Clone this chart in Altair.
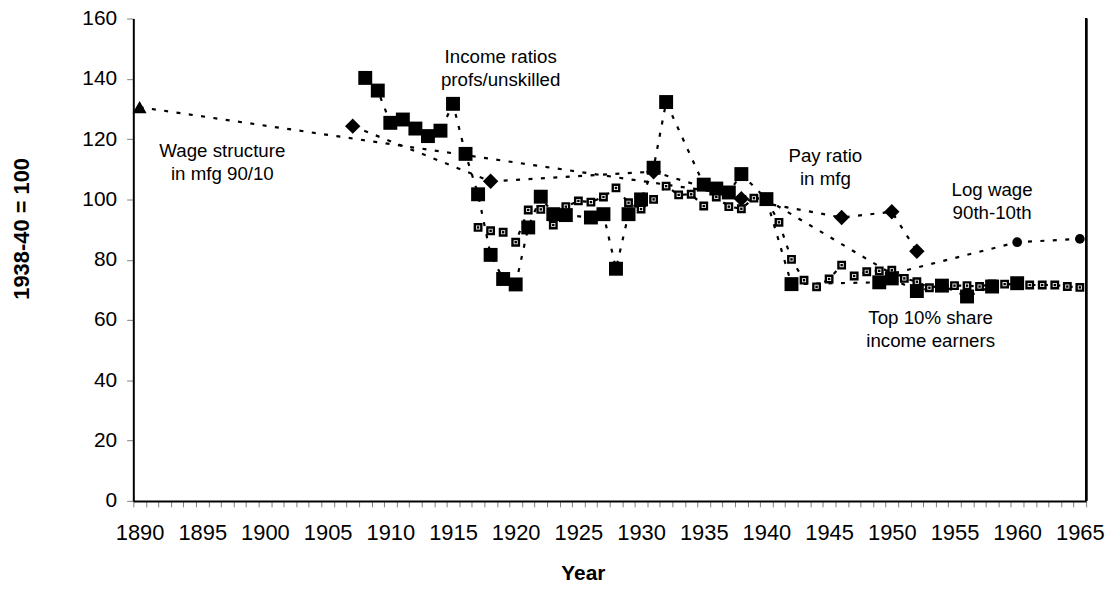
import altair as alt
import pandas as pd

FONT = "Liberation Sans"

# Income ratios profs/unskilled (large black squares)
prof_years = [1908, 1909, 1910, 1911, 1912, 1913, 1914, 1915, 1916, 1917, 1918, 1919, 1920,
              1921, 1922, 1923, 1924, 1926, 1927, 1928, 1929, 1930, 1931, 1932, 1935, 1936,
              1937, 1938, 1940, 1942, 1949, 1950, 1952, 1954, 1956, 1958, 1960]
prof_vals = [140.3, 136.1, 125.4, 126.5, 123.5, 121.0, 122.8, 131.7, 115.1, 101.7, 81.6, 73.6, 71.8,
             90.7, 100.9, 95.1, 94.8, 94.0, 95.1, 77.0, 95.1, 100.0, 110.5, 132.3, 104.9, 103.6,
             102.3, 108.4, 100.1, 71.9, 72.5, 73.8, 69.6, 71.4, 67.8, 71.1, 72.2]

# Top 10% share income earners (small squares)
top_years = [1917, 1918, 1919, 1920, 1921, 1922, 1923, 1924, 1925, 1926, 1927, 1928, 1929,
             1930, 1931, 1932, 1933, 1934, 1935, 1936, 1937, 1938, 1939, 1940, 1941, 1942,
             1943, 1944, 1945, 1946, 1947, 1948, 1949, 1950, 1951, 1952, 1953, 1954, 1955,
             1956, 1957, 1958, 1959, 1960, 1961, 1962, 1963, 1964, 1965]
top_vals = [90.7, 89.6, 89.1, 85.8, 96.5, 96.7, 91.5, 97.6, 99.5, 99.1, 100.8, 103.8, 98.9,
            96.8, 100.0, 104.4, 101.5, 101.7, 97.8, 100.8, 97.6, 96.9, 100.4, 100.0, 92.4, 80.1,
            73.2, 71.0, 73.6, 78.2, 74.6, 76.0, 76.3, 76.5, 73.8, 72.7, 70.7, 71.5, 71.4,
            71.4, 71.1, 72.0, 71.9, 72.0, 71.6, 71.6, 71.6, 71.1, 70.8]

# Pay ratio in mfg (diamonds)
pay_years = [1907, 1918, 1931, 1938, 1946, 1950, 1952]
pay_vals = [124.3, 106.0, 109.2, 100.2, 94.0, 95.9, 82.8]

# Wage structure in mfg 90/10 (triangles)
wage_years = [1890, 1940]
wage_vals = [130.6, 100.0]

# Log wage 90th-10th (circles)
log_years = [1940, 1950, 1960, 1965]
log_vals = [100.0, 75.3, 85.8, 86.9]

# Annotations
ann_text = ["Wage structure", "in mfg 90/10", "Income ratios", "profs/unskilled",
            "Pay ratio", "in mfg", "Log wage", "90th-10th", "Top 10% share", "income earners"]
ann_year = [1896.6, 1896.6, 1918.8, 1918.8, 1944.7, 1944.7, 1958.0, 1958.0, 1953.1, 1953.1]
ann_val = [114.2, 106.6, 145.2, 137.7, 112.4, 104.9, 101.1, 93.4, 58.7, 50.9]

y_ticks = [0, 20, 40, 60, 80, 100, 120, 140, 160]
x_bounds = [1889.5 + i for i in range(77)]


def df(years, vals):
    return pd.DataFrame({"year": years, "value": vals})


x_axis = alt.Axis(
    values=x_bounds,
    labelExpr="(datum.value + 0.5) % 5 === 0 ? '' + (datum.value + 0.5) : ''",
    labelOffset=6.3, labelOverlap=False, labelFlush=False, grid=False,
    domainColor="black", domainWidth=2, tickColor="#808080", tickSize=6, tickWidth=1,
    labelFont=FONT, labelFontSize=22, labelColor="black", labelPadding=16,
    title="Year", titleFont=FONT, titleFontSize=21, titleFontWeight="bold", titleColor="black",
    titleX=452, titleY=73, titleAlign="center", titleBaseline="middle",
)
y_axis = alt.Axis(
    values=y_ticks, grid=False, labelFlush=False,
    domainColor="black", domainWidth=2, tickColor="#808080", tickSize=6.7, tickWidth=1,
    labelFont=FONT, labelFontSize=21, labelColor="black", labelPadding=10,
    title="1938-40 = 100", titleFont=FONT, titleFontSize=22, titleFontWeight="bold",
    titleColor="black", titleAngle=270, titleX=-112, titleY=211,
    titleAlign="center", titleBaseline="middle",
)

X = alt.X("year:Q", scale=alt.Scale(domain=[1889.5, 1965.5], nice=False, zero=False), axis=x_axis)
Y = alt.Y("value:Q", scale=alt.Scale(domain=[0, 160], nice=False, zero=True), axis=y_axis)

line_style = dict(color="black", strokeWidth=2.2, strokeDash=[4, 8.5], strokeCap="butt")

layers = []
for yrs, vals in [(wage_years, wage_vals), (pay_years, pay_vals), (log_years, log_vals),
                  (top_years, top_vals), (prof_years, prof_vals)]:
    layers.append(alt.Chart(df(yrs, vals)).mark_line(**line_style).encode(x=X, y=Y))

layers.append(alt.Chart(df(wage_years, wage_vals)).mark_point(
    shape="triangle-up", filled=True, color="black", size=200, opacity=1).encode(x=X, y=Y))
layers.append(alt.Chart(df(log_years, log_vals)).mark_point(
    shape="circle", filled=True, color="black", size=95, opacity=1).encode(x=X, y=Y))
layers.append(alt.Chart(df(pay_years, pay_vals)).mark_point(
    shape="diamond", filled=True, color="black", size=240, opacity=1).encode(x=X, y=Y))
layers.append(alt.Chart(df(top_years, top_vals)).mark_point(
    shape="square", filled=True, fill="white", stroke="black", strokeWidth=2.4,
    size=42, opacity=1).encode(x=X, y=Y))
layers.append(alt.Chart(df(top_years, top_vals)).mark_point(
    shape="square", filled=True, color="black", size=6, opacity=1).encode(x=X, y=Y))
layers.append(alt.Chart(df(prof_years, prof_vals)).mark_point(
    shape="square", filled=True, color="black", size=196, opacity=1).encode(x=X, y=Y))

ann_df = pd.DataFrame({"year": ann_year, "value": ann_val, "label": ann_text})
layers.append(alt.Chart(ann_df).mark_text(
    font=FONT, fontSize=18.8, color="black", align="center", baseline="alphabetic"
).encode(x=X, y=Y, text="label:N"))

layers.append(alt.Chart(ann_df).mark_rule(color="black", strokeWidth=2).encode(
    x=alt.value(958), y=alt.value(0), y2=alt.value(485)))

chart = alt.layer(*layers).properties(
    width=958, height=485,
    autosize=alt.AutoSizeParams(type="none"),
    padding={"left": 126, "top": 9, "right": 22, "bottom": 84},
    background="white",
).configure_view(stroke=None)

chart.save("out.html", embed_options={"renderer": "svg", "actions": False})
